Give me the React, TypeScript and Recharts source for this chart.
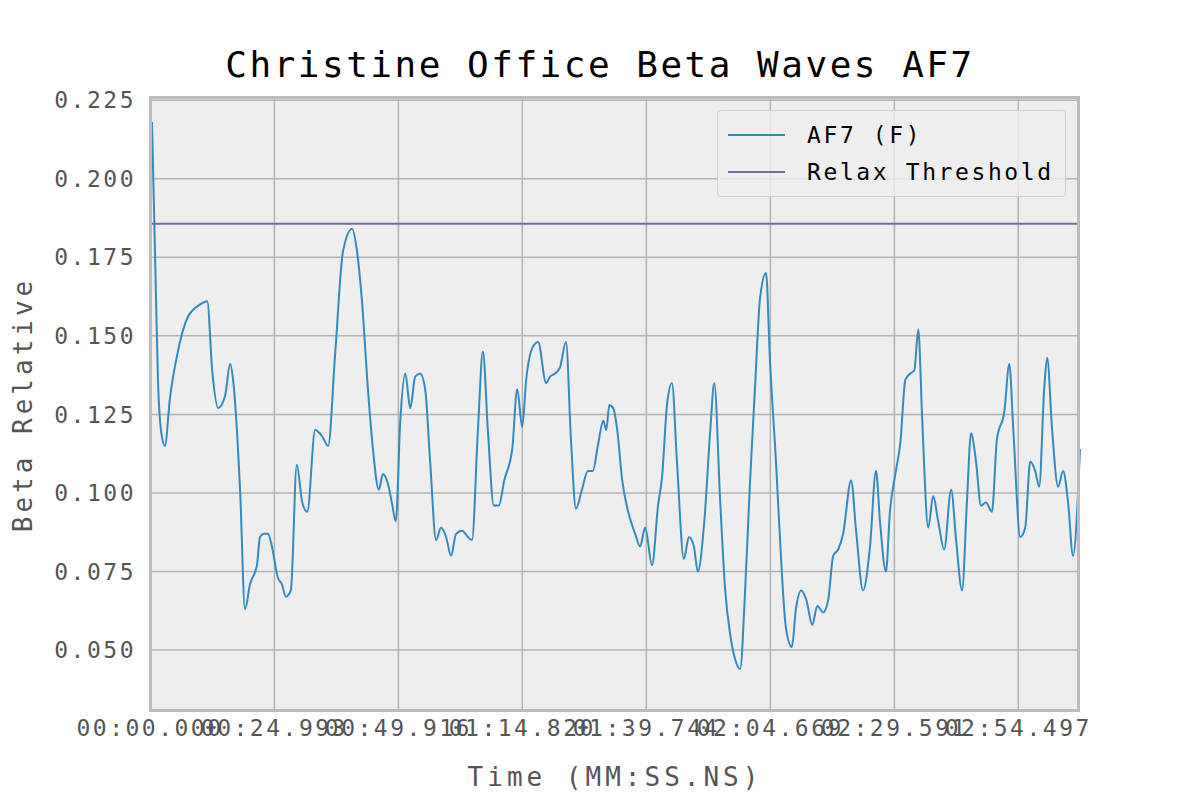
import { LineChart, Line, XAxis, YAxis, CartesianGrid, ReferenceLine } from 'recharts';

const times = [0.4, 1.0, 1.6, 2.2, 3.0, 4.0, 5.6, 7.6, 10.1, 11.5, 12.5, 13.7, 15.1, 16.1, 16.7, 18.1, 19.1, 20.1, 21.5, 22.1, 22.9, 23.7, 24.5, 25.7, 26.5, 27.3, 28.3, 29.5, 30.6, 31.6, 33.2, 34.6, 35.8, 37.2, 38.8, 40.6, 41.6, 42.6, 43.8, 44.8, 46.0, 46.8, 47.8, 48.6, 49.4, 50.3, 51.3, 52.3, 53.3, 54.3, 55.3, 56.3, 57.5, 58.5, 59.5, 60.5, 61.5, 62.7, 63.9, 64.7, 65.9, 66.9, 67.9, 69.1, 70.1, 71.2, 72.8, 73.8, 74.8, 75.6, 76.8, 78.0, 79.6, 80.4, 81.4, 82.4, 83.6, 84.6, 85.6, 86.8, 88.0, 89.0, 90.0, 91.1, 91.7, 92.3, 93.1, 93.9, 94.9, 96.1, 97.5, 98.5, 99.5, 100.9, 102.1, 102.9, 103.9, 104.9, 105.9, 107.3, 108.3, 109.3, 110.1, 111.4, 112.6, 113.4, 114.6, 115.6, 116.6, 117.6, 118.6, 119.6, 120.6, 121.6, 122.6, 123.8, 124.6, 125.8, 127.0, 127.8, 129.0, 129.8, 130.9, 131.9, 133.1, 134.1, 135.3, 136.3, 137.3, 138.3, 139.3, 140.9, 141.9, 143.3, 144.7, 145.9, 146.7, 147.9, 148.7, 149.9, 150.8, 151.8, 152.8, 153.6, 154.4, 155.2, 156.4, 157.4, 158.4, 159.6, 161.0, 162.0, 163.2, 164.2, 165.0, 166.0, 167.0, 168.0, 169.2, 170.2, 171.7, 172.7, 173.5, 174.9, 175.9, 176.9, 177.9, 178.7, 179.7, 180.3, 181.3, 182.5, 183.5, 184.5, 185.5, 186.9];

const af7 = [0.218, 0.177, 0.136, 0.120, 0.115, 0.130, 0.145, 0.156, 0.160, 0.161, 0.139, 0.127, 0.131, 0.141, 0.136, 0.101, 0.063, 0.071, 0.077, 0.086, 0.087, 0.087, 0.083, 0.073, 0.071, 0.067, 0.069, 0.109, 0.097, 0.094, 0.120, 0.118, 0.115, 0.144, 0.177, 0.184, 0.177, 0.161, 0.133, 0.114, 0.101, 0.106, 0.103, 0.097, 0.091, 0.123, 0.138, 0.127, 0.137, 0.138, 0.133, 0.110, 0.085, 0.089, 0.086, 0.080, 0.087, 0.088, 0.086, 0.085, 0.120, 0.145, 0.120, 0.096, 0.096, 0.104, 0.114, 0.133, 0.121, 0.136, 0.146, 0.148, 0.135, 0.137, 0.138, 0.140, 0.148, 0.117, 0.095, 0.101, 0.107, 0.107, 0.115, 0.123, 0.120, 0.128, 0.127, 0.120, 0.104, 0.094, 0.087, 0.083, 0.089, 0.077, 0.096, 0.105, 0.128, 0.135, 0.110, 0.079, 0.086, 0.083, 0.075, 0.091, 0.120, 0.135, 0.097, 0.069, 0.055, 0.047, 0.044, 0.069, 0.104, 0.134, 0.162, 0.170, 0.142, 0.110, 0.074, 0.057, 0.051, 0.063, 0.069, 0.066, 0.058, 0.064, 0.062, 0.066, 0.080, 0.082, 0.087, 0.104, 0.088, 0.069, 0.083, 0.107, 0.091, 0.075, 0.094, 0.107, 0.116, 0.136, 0.138, 0.139, 0.152, 0.123, 0.089, 0.099, 0.091, 0.082, 0.101, 0.085, 0.069, 0.098, 0.119, 0.110, 0.096, 0.097, 0.094, 0.117, 0.126, 0.141, 0.120, 0.086, 0.089, 0.110, 0.107, 0.102, 0.133, 0.143, 0.120, 0.102, 0.107, 0.097, 0.080, 0.114];

const relaxThreshold = 0.1857;
const xTicks = [0, 24.993, 49.916, 74.82, 99.744, 124.669, 149.591, 174.497];
const xTickLabels = ['00:00.000', '00:24.993', '00:49.916', '01:14.820', '01:39.744', '02:04.669', '02:29.591', '02:54.497'];
const yTicks = [0.05, 0.075, 0.1, 0.125, 0.15, 0.175, 0.2, 0.225];

const data = times.map((t, i) => ({ t, af7: af7[i] }));
const font = '"DejaVu Sans Mono", monospace';
const tickStyle = { fill: '#555555', fontSize: 23, fontFamily: font, letterSpacing: 2.5 };

export default function App() {
    return (
        <div style={{ position: 'absolute', left: 0, top: 0, width: 1200, height: 800, background: '#fff', fontFamily: font }}>
            <div style={{ position: 'absolute', top: 44, width: 1200, textAlign: 'center', fontSize: 36, color: '#000', letterSpacing: 2.5 }}>
                Christine Office Beta Waves AF7
            </div>
            <LineChart width={1200} height={800} data={data} margin={{ top: 97, right: 120, bottom: 38, left: 90 }}>
                <CartesianGrid stroke="#b2b2b2" strokeWidth={1.5} fill="#eeeeee" horizontalValues={yTicks} verticalValues={xTicks} />
                <XAxis
                    dataKey="t"
                    type="number"
                    domain={[0, 186.9]}
                    ticks={xTicks}
                    tickFormatter={(v) => xTickLabels[xTicks.indexOf(v)] ?? ''}
                    tick={tickStyle}
                    tickLine={false}
                    axisLine={false}
                    height={50}
                    interval={0}
                    label={{ value: 'Time (MM:SS.NS)', position: 'insideBottom', offset: -24, style: { fill: '#555555', fontSize: 26, fontFamily: font, letterSpacing: 4 } }}
                />
                <YAxis
                    type="number"
                    domain={[0.0303, 0.226]}
                    ticks={yTicks}
                    tickFormatter={(v) => v.toFixed(3)}
                    tick={{ ...tickStyle, dx: -6 }}
                    tickLine={false}
                    axisLine={false}
                    width={60}
                    allowDataOverflow
                    label={{ value: 'Beta Relative', angle: -90, position: 'insideLeft', dx: -72, dy: 0, style: { fill: '#555555', fontSize: 26, fontFamily: font, textAnchor: 'middle', letterSpacing: 4 } }}
                />
                <ReferenceLine y={relaxThreshold} stroke="#7A68A6" strokeWidth={2} />
                <Line type="monotone" dataKey="af7" stroke="#348ABD" strokeWidth={2} dot={false} isAnimationActive={false} />
            </LineChart>
            <div style={{ position: 'absolute', left: 149, top: 96, width: 931, height: 616, border: '3px solid #bcbcbc', boxSizing: 'border-box', pointerEvents: 'none' }} />
            <div style={{ position: 'absolute', left: 717, top: 110, width: 349, height: 87, border: '1px solid #d0d0d0', borderRadius: 4, background: 'rgba(238,238,238,0.8)', boxSizing: 'border-box', fontSize: 23, color: '#000', letterSpacing: 2.6, whiteSpace: 'nowrap' }}>
                <div style={{ position: 'absolute', left: 10, top: 11, display: 'flex', alignItems: 'center' }}>
                    <span style={{ display: 'inline-block', width: 57, height: 2, background: '#348ABD', marginRight: 22 }} />AF7 (F)
                </div>
                <div style={{ position: 'absolute', left: 10, top: 48, display: 'flex', alignItems: 'center' }}>
                    <span style={{ display: 'inline-block', width: 57, height: 2, background: '#7A68A6', marginRight: 22 }} />Relax Threshold
                </div>
            </div>
        </div>
    );
}
